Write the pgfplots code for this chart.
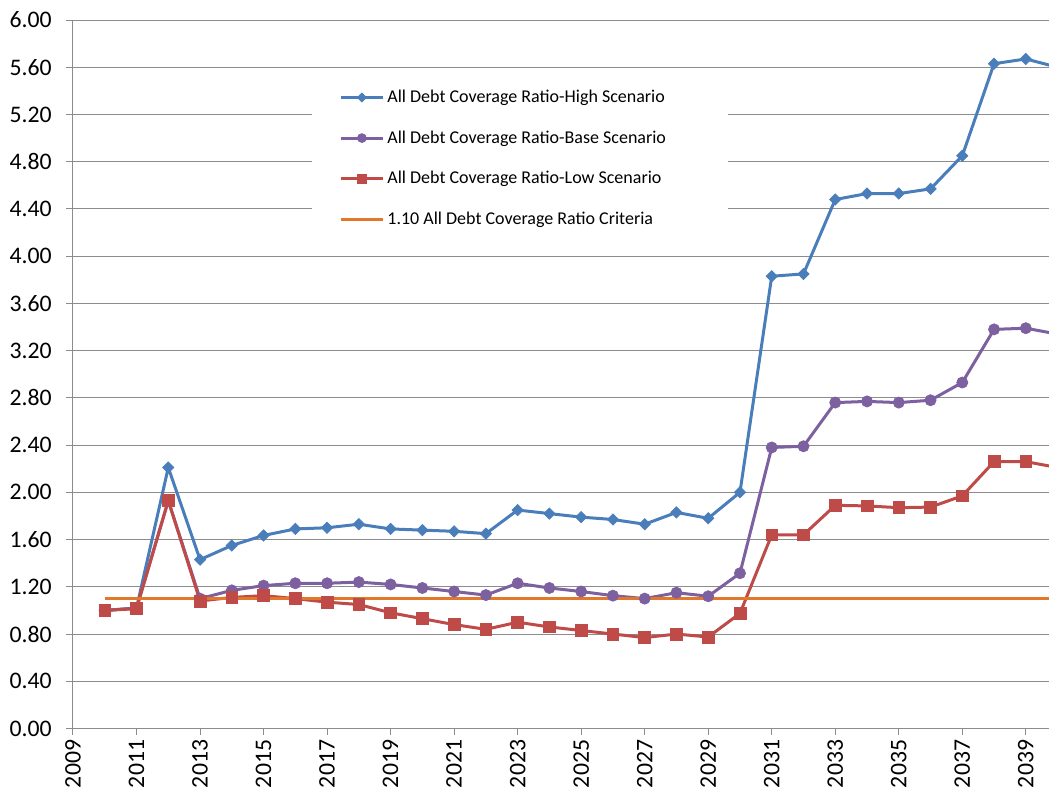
\documentclass[border=0pt]{standalone}
\usepackage{fontspec}
\setmainfont{Carlito}
\usepackage{pgfplots}
\pgfplotsset{compat=1.18}

\definecolor{hiblue}{HTML}{4A7EBB}
\definecolor{basepurple}{HTML}{7D60A0}
\definecolor{lowred}{HTML}{BE4B48}
\definecolor{critorange}{HTML}{E4782A}
\definecolor{gridgray}{HTML}{8C8C8C}

\begin{document}
\begin{tikzpicture}
\useasboundingbox (-54.75pt,-49.125pt) rectangle (732pt,546.375pt);
\begin{axis}[
  at={(0pt,0pt)}, anchor=south west,
  scale only axis, width=732pt, height=531.375pt,
  xmin=2009, xmax=2039.73, ymin=0, ymax=6,
  axis lines*=left,
  axis line style={gridgray, line width=0.75pt},
  xtick={2009,2011,2013,2015,2017,2019,2021,2023,2025,2027,2029,2031,2033,2035,2037,2039},
  ytick={0,0.4,0.8,1.2,1.6,2.0,2.4,2.8,3.2,3.6,4.0,4.4,4.8,5.2,5.6,6.0},
  ymajorgrids,
  grid style={gridgray, line width=0.75pt},
  tick style={gridgray, line width=0.75pt},
  tick align=outside, major tick length=5pt,
  /pgf/number format/assume math mode=true,
  /pgf/number format/1000 sep={},
  yticklabel style={/pgf/number format/.cd, fixed, fixed zerofill, precision=2,
    /tikz/.cd, font=\fontsize{17.8}{17.8}\selectfont, xshift=-7.5pt},
  xticklabel style={rotate=90, anchor=east, font=\fontsize{17.8}{17.8}\selectfont},
  legend style={at={(rel axis cs:0.245,0.922)}, anchor=north west,
    draw=none, fill=white, inner xsep=20pt, inner ysep=9pt,
    row sep=15.6pt, font=\fontsize{13.5}{16}\selectfont,
    nodes={inner sep=2pt}},
  legend cell align=left,
  legend image code/.code={
    \draw[mark repeat=2, mark phase=2, #1, /tikz/every mark/.append style={scale=0.8}]
      plot coordinates {(0pt,0pt) (16pt,0pt) (32pt,0pt)};
  },
]

% High scenario
\addplot[hiblue, line width=2.25pt, mark=square*, mark size=3pt,
  mark options={rotate=45, solid, line width=0.5pt, fill=hiblue, draw=hiblue}]
coordinates {
(2010,1.00) (2011,1.02) (2012,2.21) (2013,1.43) (2014,1.55) (2015,1.635)
(2016,1.69) (2017,1.70) (2018,1.73) (2019,1.69) (2020,1.68) (2021,1.67)
(2022,1.65) (2023,1.85) (2024,1.82) (2025,1.79) (2026,1.77) (2027,1.73)
(2028,1.83) (2029,1.78) (2030,2.00) (2031,3.83) (2032,3.85) (2033,4.48)
(2034,4.53) (2035,4.53) (2036,4.57) (2037,4.85) (2038,5.63) (2039,5.67)
(2040,5.60)
};
\addlegendentry{All Debt Coverage Ratio-High Scenario\hspace*{25pt}}

% Base scenario
\addplot[basepurple, line width=2.25pt, mark=*, mark size=4.2pt,
  mark options={solid, line width=0.5pt, fill=basepurple, draw=basepurple}]
coordinates {
(2010,1.00) (2011,1.02) (2012,1.93) (2013,1.10) (2014,1.17) (2015,1.21)
(2016,1.23) (2017,1.23) (2018,1.24) (2019,1.22) (2020,1.19) (2021,1.16)
(2022,1.13) (2023,1.23) (2024,1.19) (2025,1.16) (2026,1.125) (2027,1.10)
(2028,1.15) (2029,1.12) (2030,1.315) (2031,2.38) (2032,2.39) (2033,2.76)
(2034,2.77) (2035,2.76) (2036,2.78) (2037,2.93) (2038,3.38) (2039,3.39)
(2040,3.34)
};
\addlegendentry{All Debt Coverage Ratio-Base Scenario}

% Low scenario
\addplot[lowred, line width=2.25pt, mark=square*, mark size=4.4pt,
  mark options={solid, line width=0.5pt, fill=lowred, draw=lowred}]
coordinates {
(2010,1.00) (2011,1.015) (2012,1.93) (2013,1.08) (2014,1.11) (2015,1.125)
(2016,1.10) (2017,1.07) (2018,1.05) (2019,0.98) (2020,0.93) (2021,0.88)
(2022,0.84) (2023,0.90) (2024,0.86) (2025,0.83) (2026,0.80) (2027,0.77)
(2028,0.80) (2029,0.775) (2030,0.975) (2031,1.64) (2032,1.64) (2033,1.89)
(2034,1.885) (2035,1.87) (2036,1.875) (2037,1.97) (2038,2.26) (2039,2.26)
(2040,2.21)
};
\addlegendentry{All Debt Coverage Ratio-Low Scenario}

% Coverage criterion
\addplot[critorange, line width=2.25pt, mark=none]
coordinates {(2010,1.10) (2040,1.10)};
\addlegendentry{1.10 All Debt Coverage Ratio Criteria}

\end{axis}
\end{tikzpicture}
\end{document}
